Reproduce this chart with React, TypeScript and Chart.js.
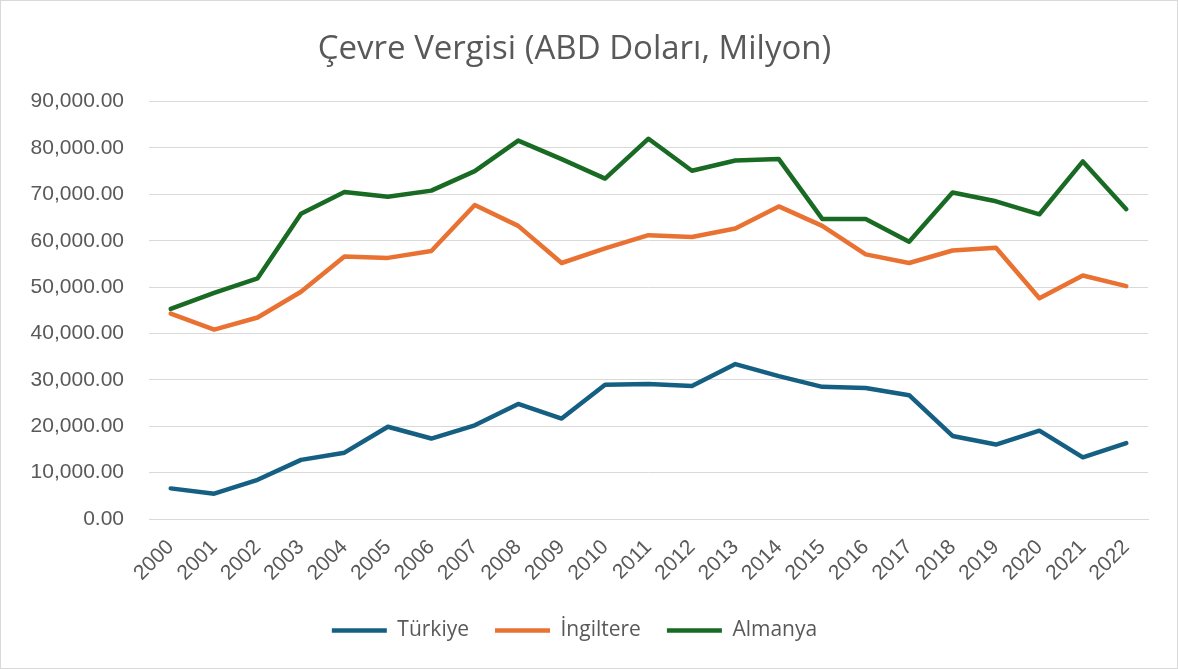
import React, { useEffect, useRef } from "react";
import { Chart, registerables } from "chart.js";

Chart.register(...registerables);

const years = ["2000","2001","2002","2003","2004","2005","2006","2007","2008","2009","2010","2011","2012","2013","2014","2015","2016","2017","2018","2019","2020","2021","2022"];
const turkiye = [6600,5450,8450,12750,14300,19900,17350,20200,24800,21650,28950,29100,28700,33400,30800,28500,28250,26700,17900,16050,19050,13300,16350];
const ingiltere = [44300,40850,43450,49000,56600,56300,57800,67700,63200,55200,58350,61200,60800,62650,67400,63200,57050,55200,57900,58500,47600,52500,50200];
const almanya = [45300,48750,51900,65800,70500,69500,70800,75000,81600,77600,73400,82000,75100,77300,77600,64700,64700,59800,70400,68500,65700,77100,66800];
const seriesNames = ["Türkiye","İngiltere","Almanya"];
const seriesColors = ["#156082","#E97132","#196B24"];
const titleText = "Çevre Vergisi (ABD Doları, Milyon)";

export default function App() {
  const ref = useRef<HTMLCanvasElement | null>(null);
  useEffect(() => {
    document.body.style.margin = "0";
    const values = [turkiye, ingiltere, almanya];
    const chart = new Chart(ref.current!, {
      type: "line",
      data: {
        labels: years,
        datasets: values.map((v, i) => ({
          label: seriesNames[i],
          data: v,
          borderColor: seriesColors[i],
          backgroundColor: seriesColors[i],
          borderWidth: 4.5,
          pointRadius: 0,
          pointStyle: "line" as const,
          borderCapStyle: "round" as const,
          borderJoinStyle: "round" as const,
          tension: 0,
        })),
      },
      options: {
        responsive: false,
        animation: false,
        layout: { padding: { left: 0, right: 29, top: 0, bottom: 17 } },
        plugins: {
          title: {
            display: true,
            text: titleText,
            color: "#595959",
            font: { family: "'Open Sans', sans-serif", size: 33, weight: "normal" },
            padding: { top: 29, bottom: 32 },
          },
          legend: {
            position: "bottom",
            labels: {
              color: "#595959",
              font: { family: "'Open Sans', sans-serif", size: 21 },
              usePointStyle: true,
              pointStyle: "line",
              pointStyleWidth: 55,
              boxHeight: 21,
              padding: 26,
            },
          },
          tooltip: { enabled: false },
        },
        scales: {
          x: {
            offset: true,
            grid: { display: false, drawTicks: false },
            border: { display: true, color: "#d9d9d9", width: 1 },
            ticks: {
              color: "#595959",
              font: { family: "'Liberation Sans', Arial, sans-serif", size: 21 },
              minRotation: 45,
              maxRotation: 45,
              autoSkip: false,
              padding: 16,
            },
            afterFit: (s: any) => { s.height = 75; },
          },
          y: {
            min: 0,
            max: 90000,
            grid: { color: "#d9d9d9", lineWidth: 1, drawTicks: false },
            border: { display: false },
            ticks: {
              stepSize: 10000,
              color: "#595959",
              font: { family: "'Liberation Sans', Arial, sans-serif", size: 21 },
              padding: 25,
              callback: (v: any) => Number(v).toLocaleString("en-US", { minimumFractionDigits: 2, maximumFractionDigits: 2 }),
            },
            afterFit: (s: any) => { s.width = 148; },
          },
        },
      },
    });
    return () => chart.destroy();
  }, []);
  return (
    <div style={{ width: 1178, height: 669, boxSizing: "border-box", border: "1px solid #d9d9d9", background: "#fff" }}>
      <canvas ref={ref} width={1176} height={667} style={{ display: "block" }} />
    </div>
  );
}
